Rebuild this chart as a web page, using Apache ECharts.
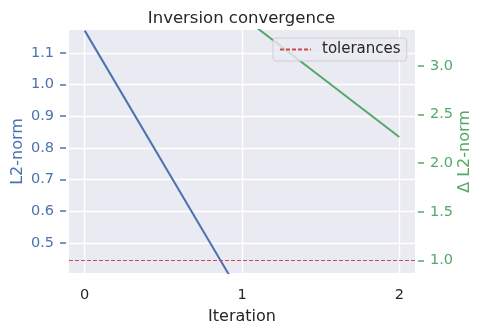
<!DOCTYPE html>
<html><head><meta charset="utf-8">
<script src="https://cdn.jsdelivr.net/npm/echarts@6/dist/echarts.min.js"></script>
<style>html,body{margin:0;padding:0;background:#fff}#c{width:483px;height:333px}</style>
</head><body><div id="c"></div>
<script>
const iterations = [0, 1, 2];
const l2Norm = [1.17, 0.33, null];
const deltaL2Norm = [null, 3.51, 2.27];
const tolerance = 1.0;
const xTicks = [0, 1, 2];
const leftTicks = [0.5, 0.6, 0.7, 0.8, 0.9, 1.0, 1.1];
const rightTicks = [1.0, 1.5, 2.0, 2.5, 3.0];

const BLUE = '#4C72B0', GREEN = '#55A868', RED = '#D0484F', DARK = '#262626';
const FONT = 'DejaVu Sans';
const pairs = (ys) => iterations.map((x, i) => [x, ys[i]]).filter(p => p[1] !== null);

const chart = echarts.init(document.getElementById('c'), null, {renderer: 'canvas'});
chart.setOption({
  animation: false,
  backgroundColor: '#ffffff',
  textStyle: {fontFamily: FONT},
  title: {
    text: 'Inversion convergence', left: 'center', top: 5,
    textStyle: {fontFamily: FONT, fontSize: 16.5, fontWeight: 'normal', color: DARK}
  },
  grid: {left: 69, right: 68, top: 30, bottom: 60, show: true, backgroundColor: '#EAEAF2', borderWidth: 0,
         containLabel: false, outerBoundsMode: 'none'},
  legend: {
    data: ['tolerances'], left: 273, top: 38, z: 10,
    padding: [4, 6, 4, 6], itemWidth: 31, itemHeight: 14, itemGap: 0,
    itemStyle: {opacity: 0},
    backgroundColor: 'rgba(234,234,242,0.8)', borderColor: 'rgba(204,204,204,0.9)', borderWidth: 1, borderRadius: 3,
    textStyle: {fontFamily: FONT, fontSize: 15, color: DARK, padding: [0, 0, 0, 6]}
  },
  xAxis: {
    type: 'value', min: -0.1, max: 2.1,
    name: 'Iteration', nameLocation: 'middle', nameGap: 36, nameMoveOverlap: false,
    nameTextStyle: {fontFamily: FONT, fontSize: 16, color: DARK},
    axisLine: {show: false, onZero: false},
    axisTick: {show: false, customValues: xTicks},
    axisLabel: {customValues: xTicks, fontFamily: FONT, fontSize: 14.5, color: DARK, margin: 15},
    splitLine: {show: true, lineStyle: {color: '#ffffff', width: 1.3}}
  },
  yAxis: [{
    type: 'value', min: 0.405, max: 1.172, position: 'left', offset: 3,
    name: 'L2-norm', nameLocation: 'middle', nameGap: 40, nameRotate: 90, nameMoveOverlap: false,
    nameTextStyle: {fontFamily: FONT, fontSize: 16, color: BLUE},
    axisLine: {show: false, onZero: false},
    axisTick: {show: true, length: 6, customValues: leftTicks, lineStyle: {color: BLUE, width: 1.5}},
    axisLabel: {customValues: leftTicks, formatter: v => v.toFixed(1), fontFamily: FONT, fontSize: 14.5, color: BLUE, margin: 12},
    splitLine: {show: true, lineStyle: {color: '#ffffff', width: 1.3}}
  }, {
    type: 'value', min: 0.87, max: 3.37, position: 'right', offset: 3,
    name: 'Δ L2-norm', nameLocation: 'middle', nameGap: 39, nameRotate: 90, nameMoveOverlap: false,
    nameTextStyle: {fontFamily: FONT, fontSize: 16, color: GREEN},
    axisLine: {show: false, onZero: false},
    axisTick: {show: true, length: 6, customValues: rightTicks, lineStyle: {color: GREEN, width: 1.5}},
    axisLabel: {customValues: rightTicks, formatter: v => v.toFixed(1), fontFamily: FONT, fontSize: 14.5, color: GREEN, margin: 12},
    splitLine: {show: false}
  }],
  series: [{
    name: 'L2-norm', type: 'line', yAxisIndex: 0, data: pairs(l2Norm),
    symbol: 'none', clip: true, lineStyle: {color: BLUE, width: 2}, itemStyle: {color: BLUE}, z: 3
  }, {
    name: 'Δ L2-norm', type: 'line', yAxisIndex: 1, data: pairs(deltaL2Norm),
    symbol: 'none', clip: true, lineStyle: {color: GREEN, width: 2}, itemStyle: {color: GREEN}, z: 3
  }, {
    name: 'tolerances', type: 'line', yAxisIndex: 1, data: [[iterations[0], tolerance]],
    symbol: 'none', lineStyle: {color: RED, width: 1.2, type: [4, 2]}, itemStyle: {color: RED},
    markLine: {
      silent: true, symbol: 'none', label: {show: false},
      lineStyle: {color: RED, width: 1.2, type: [4, 2]},
      data: [{yAxis: tolerance}]
    }, z: 4
  }]
});
</script></body></html>
